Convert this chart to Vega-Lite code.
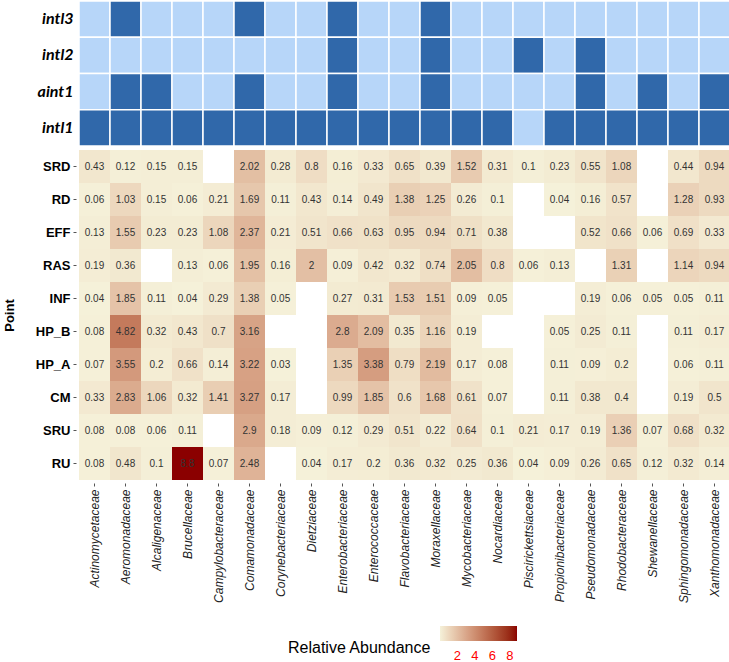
{
  "$schema": "https://vega.github.io/schema/vega-lite/v6.json",
  "padding": {"left": 3, "top": 0, "right": 0, "bottom": 0},
  "spacing": 3,
  "config": {
    "view": {"stroke": null},
    "scale": {"bandPaddingInner": 0, "bandPaddingOuter": 0},
    "font": "Liberation Sans"
  },
  "resolve": {"scale": {"x": "shared"}},
  "datasets": {
    "genes": [
      {"gene":"intl3","family":"Actinomycetaceae","present":0},{"gene":"intl3","family":"Aeromonadaceae","present":1},{"gene":"intl3","family":"Alcaligenaceae","present":0},{"gene":"intl3","family":"Brucellaceae","present":0},{"gene":"intl3","family":"Campylobacteraceae","present":0},{"gene":"intl3","family":"Comamonadaceae","present":1},{"gene":"intl3","family":"Corynebacteriaceae","present":0},{"gene":"intl3","family":"Dietziaceae","present":0},{"gene":"intl3","family":"Enterobacteriaceae","present":1},{"gene":"intl3","family":"Enterococcaceae","present":0},{"gene":"intl3","family":"Flavobacteriaceae","present":0},{"gene":"intl3","family":"Moraxellaceae","present":1},{"gene":"intl3","family":"Mycobacteriaceae","present":0},{"gene":"intl3","family":"Nocardiaceae","present":0},{"gene":"intl3","family":"Piscirickettsiaceae","present":0},{"gene":"intl3","family":"Propionibacteriaceae","present":0},{"gene":"intl3","family":"Pseudomonadaceae","present":0},{"gene":"intl3","family":"Rhodobacteraceae","present":0},{"gene":"intl3","family":"Shewanellaceae","present":0},{"gene":"intl3","family":"Sphingomonadaceae","present":0},{"gene":"intl3","family":"Xanthomonadaceae","present":0},
      {"gene":"intl2","family":"Actinomycetaceae","present":0},{"gene":"intl2","family":"Aeromonadaceae","present":0},{"gene":"intl2","family":"Alcaligenaceae","present":0},{"gene":"intl2","family":"Brucellaceae","present":0},{"gene":"intl2","family":"Campylobacteraceae","present":0},{"gene":"intl2","family":"Comamonadaceae","present":0},{"gene":"intl2","family":"Corynebacteriaceae","present":0},{"gene":"intl2","family":"Dietziaceae","present":0},{"gene":"intl2","family":"Enterobacteriaceae","present":1},{"gene":"intl2","family":"Enterococcaceae","present":0},{"gene":"intl2","family":"Flavobacteriaceae","present":0},{"gene":"intl2","family":"Moraxellaceae","present":1},{"gene":"intl2","family":"Mycobacteriaceae","present":0},{"gene":"intl2","family":"Nocardiaceae","present":0},{"gene":"intl2","family":"Piscirickettsiaceae","present":1},{"gene":"intl2","family":"Propionibacteriaceae","present":0},{"gene":"intl2","family":"Pseudomonadaceae","present":1},{"gene":"intl2","family":"Rhodobacteraceae","present":0},{"gene":"intl2","family":"Shewanellaceae","present":0},{"gene":"intl2","family":"Sphingomonadaceae","present":0},{"gene":"intl2","family":"Xanthomonadaceae","present":0},
      {"gene":"aint1","family":"Actinomycetaceae","present":0},{"gene":"aint1","family":"Aeromonadaceae","present":1},{"gene":"aint1","family":"Alcaligenaceae","present":1},{"gene":"aint1","family":"Brucellaceae","present":0},{"gene":"aint1","family":"Campylobacteraceae","present":0},{"gene":"aint1","family":"Comamonadaceae","present":1},{"gene":"aint1","family":"Corynebacteriaceae","present":0},{"gene":"aint1","family":"Dietziaceae","present":0},{"gene":"aint1","family":"Enterobacteriaceae","present":1},{"gene":"aint1","family":"Enterococcaceae","present":0},{"gene":"aint1","family":"Flavobacteriaceae","present":0},{"gene":"aint1","family":"Moraxellaceae","present":1},{"gene":"aint1","family":"Mycobacteriaceae","present":0},{"gene":"aint1","family":"Nocardiaceae","present":0},{"gene":"aint1","family":"Piscirickettsiaceae","present":0},{"gene":"aint1","family":"Propionibacteriaceae","present":0},{"gene":"aint1","family":"Pseudomonadaceae","present":1},{"gene":"aint1","family":"Rhodobacteraceae","present":0},{"gene":"aint1","family":"Shewanellaceae","present":1},{"gene":"aint1","family":"Sphingomonadaceae","present":0},{"gene":"aint1","family":"Xanthomonadaceae","present":1},
      {"gene":"intl1","family":"Actinomycetaceae","present":1},{"gene":"intl1","family":"Aeromonadaceae","present":1},{"gene":"intl1","family":"Alcaligenaceae","present":1},{"gene":"intl1","family":"Brucellaceae","present":1},{"gene":"intl1","family":"Campylobacteraceae","present":1},{"gene":"intl1","family":"Comamonadaceae","present":1},{"gene":"intl1","family":"Corynebacteriaceae","present":1},{"gene":"intl1","family":"Dietziaceae","present":1},{"gene":"intl1","family":"Enterobacteriaceae","present":1},{"gene":"intl1","family":"Enterococcaceae","present":1},{"gene":"intl1","family":"Flavobacteriaceae","present":1},{"gene":"intl1","family":"Moraxellaceae","present":1},{"gene":"intl1","family":"Mycobacteriaceae","present":1},{"gene":"intl1","family":"Nocardiaceae","present":1},{"gene":"intl1","family":"Piscirickettsiaceae","present":0},{"gene":"intl1","family":"Propionibacteriaceae","present":1},{"gene":"intl1","family":"Pseudomonadaceae","present":1},{"gene":"intl1","family":"Rhodobacteraceae","present":1},{"gene":"intl1","family":"Shewanellaceae","present":1},{"gene":"intl1","family":"Sphingomonadaceae","present":1},{"gene":"intl1","family":"Xanthomonadaceae","present":1}
    ],
    "abund": [
      {"point":"SRD","family":"Actinomycetaceae","value":0.43},{"point":"SRD","family":"Aeromonadaceae","value":0.12},{"point":"SRD","family":"Alcaligenaceae","value":0.15},{"point":"SRD","family":"Brucellaceae","value":0.15},{"point":"SRD","family":"Comamonadaceae","value":2.02},{"point":"SRD","family":"Corynebacteriaceae","value":0.28},{"point":"SRD","family":"Dietziaceae","value":0.8},{"point":"SRD","family":"Enterobacteriaceae","value":0.16},{"point":"SRD","family":"Enterococcaceae","value":0.33},{"point":"SRD","family":"Flavobacteriaceae","value":0.65},{"point":"SRD","family":"Moraxellaceae","value":0.39},{"point":"SRD","family":"Mycobacteriaceae","value":1.52},{"point":"SRD","family":"Nocardiaceae","value":0.31},{"point":"SRD","family":"Piscirickettsiaceae","value":0.1},{"point":"SRD","family":"Propionibacteriaceae","value":0.23},{"point":"SRD","family":"Pseudomonadaceae","value":0.55},{"point":"SRD","family":"Rhodobacteraceae","value":1.08},{"point":"SRD","family":"Sphingomonadaceae","value":0.44},{"point":"SRD","family":"Xanthomonadaceae","value":0.94},
      {"point":"RD","family":"Actinomycetaceae","value":0.06},{"point":"RD","family":"Aeromonadaceae","value":1.03},{"point":"RD","family":"Alcaligenaceae","value":0.15},{"point":"RD","family":"Brucellaceae","value":0.06},{"point":"RD","family":"Campylobacteraceae","value":0.21},{"point":"RD","family":"Comamonadaceae","value":1.69},{"point":"RD","family":"Corynebacteriaceae","value":0.11},{"point":"RD","family":"Dietziaceae","value":0.43},{"point":"RD","family":"Enterobacteriaceae","value":0.14},{"point":"RD","family":"Enterococcaceae","value":0.49},{"point":"RD","family":"Flavobacteriaceae","value":1.38},{"point":"RD","family":"Moraxellaceae","value":1.25},{"point":"RD","family":"Mycobacteriaceae","value":0.26},{"point":"RD","family":"Nocardiaceae","value":0.1},{"point":"RD","family":"Propionibacteriaceae","value":0.04},{"point":"RD","family":"Pseudomonadaceae","value":0.16},{"point":"RD","family":"Rhodobacteraceae","value":0.57},{"point":"RD","family":"Sphingomonadaceae","value":1.28},{"point":"RD","family":"Xanthomonadaceae","value":0.93},
      {"point":"EFF","family":"Actinomycetaceae","value":0.13},{"point":"EFF","family":"Aeromonadaceae","value":1.55},{"point":"EFF","family":"Alcaligenaceae","value":0.23},{"point":"EFF","family":"Brucellaceae","value":0.23},{"point":"EFF","family":"Campylobacteraceae","value":1.08},{"point":"EFF","family":"Comamonadaceae","value":2.37},{"point":"EFF","family":"Corynebacteriaceae","value":0.21},{"point":"EFF","family":"Dietziaceae","value":0.51},{"point":"EFF","family":"Enterobacteriaceae","value":0.66},{"point":"EFF","family":"Enterococcaceae","value":0.63},{"point":"EFF","family":"Flavobacteriaceae","value":0.95},{"point":"EFF","family":"Moraxellaceae","value":0.94},{"point":"EFF","family":"Mycobacteriaceae","value":0.71},{"point":"EFF","family":"Nocardiaceae","value":0.38},{"point":"EFF","family":"Pseudomonadaceae","value":0.52},{"point":"EFF","family":"Rhodobacteraceae","value":0.66},{"point":"EFF","family":"Shewanellaceae","value":0.06},{"point":"EFF","family":"Sphingomonadaceae","value":0.69},{"point":"EFF","family":"Xanthomonadaceae","value":0.33},
      {"point":"RAS","family":"Actinomycetaceae","value":0.19},{"point":"RAS","family":"Aeromonadaceae","value":0.36},{"point":"RAS","family":"Brucellaceae","value":0.13},{"point":"RAS","family":"Campylobacteraceae","value":0.06},{"point":"RAS","family":"Comamonadaceae","value":1.95},{"point":"RAS","family":"Corynebacteriaceae","value":0.16},{"point":"RAS","family":"Dietziaceae","value":2},{"point":"RAS","family":"Enterobacteriaceae","value":0.09},{"point":"RAS","family":"Enterococcaceae","value":0.42},{"point":"RAS","family":"Flavobacteriaceae","value":0.32},{"point":"RAS","family":"Moraxellaceae","value":0.74},{"point":"RAS","family":"Mycobacteriaceae","value":2.05},{"point":"RAS","family":"Nocardiaceae","value":0.8},{"point":"RAS","family":"Piscirickettsiaceae","value":0.06},{"point":"RAS","family":"Propionibacteriaceae","value":0.13},{"point":"RAS","family":"Rhodobacteraceae","value":1.31},{"point":"RAS","family":"Sphingomonadaceae","value":1.14},{"point":"RAS","family":"Xanthomonadaceae","value":0.94},
      {"point":"INF","family":"Actinomycetaceae","value":0.04},{"point":"INF","family":"Aeromonadaceae","value":1.85},{"point":"INF","family":"Alcaligenaceae","value":0.11},{"point":"INF","family":"Brucellaceae","value":0.04},{"point":"INF","family":"Campylobacteraceae","value":0.29},{"point":"INF","family":"Comamonadaceae","value":1.38},{"point":"INF","family":"Corynebacteriaceae","value":0.05},{"point":"INF","family":"Enterobacteriaceae","value":0.27},{"point":"INF","family":"Enterococcaceae","value":0.31},{"point":"INF","family":"Flavobacteriaceae","value":1.53},{"point":"INF","family":"Moraxellaceae","value":1.51},{"point":"INF","family":"Mycobacteriaceae","value":0.09},{"point":"INF","family":"Nocardiaceae","value":0.05},{"point":"INF","family":"Pseudomonadaceae","value":0.19},{"point":"INF","family":"Rhodobacteraceae","value":0.06},{"point":"INF","family":"Shewanellaceae","value":0.05},{"point":"INF","family":"Sphingomonadaceae","value":0.05},{"point":"INF","family":"Xanthomonadaceae","value":0.11},
      {"point":"HP_B","family":"Actinomycetaceae","value":0.08},{"point":"HP_B","family":"Aeromonadaceae","value":4.82},{"point":"HP_B","family":"Alcaligenaceae","value":0.32},{"point":"HP_B","family":"Brucellaceae","value":0.43},{"point":"HP_B","family":"Campylobacteraceae","value":0.7},{"point":"HP_B","family":"Comamonadaceae","value":3.16},{"point":"HP_B","family":"Enterobacteriaceae","value":2.8},{"point":"HP_B","family":"Enterococcaceae","value":2.09},{"point":"HP_B","family":"Flavobacteriaceae","value":0.35},{"point":"HP_B","family":"Moraxellaceae","value":1.16},{"point":"HP_B","family":"Mycobacteriaceae","value":0.19},{"point":"HP_B","family":"Propionibacteriaceae","value":0.05},{"point":"HP_B","family":"Pseudomonadaceae","value":0.25},{"point":"HP_B","family":"Rhodobacteraceae","value":0.11},{"point":"HP_B","family":"Sphingomonadaceae","value":0.11},{"point":"HP_B","family":"Xanthomonadaceae","value":0.17},
      {"point":"HP_A","family":"Actinomycetaceae","value":0.07},{"point":"HP_A","family":"Aeromonadaceae","value":3.55},{"point":"HP_A","family":"Alcaligenaceae","value":0.2},{"point":"HP_A","family":"Brucellaceae","value":0.66},{"point":"HP_A","family":"Campylobacteraceae","value":0.14},{"point":"HP_A","family":"Comamonadaceae","value":3.22},{"point":"HP_A","family":"Corynebacteriaceae","value":0.03},{"point":"HP_A","family":"Enterobacteriaceae","value":1.35},{"point":"HP_A","family":"Enterococcaceae","value":3.38},{"point":"HP_A","family":"Flavobacteriaceae","value":0.79},{"point":"HP_A","family":"Moraxellaceae","value":2.19},{"point":"HP_A","family":"Mycobacteriaceae","value":0.17},{"point":"HP_A","family":"Nocardiaceae","value":0.08},{"point":"HP_A","family":"Propionibacteriaceae","value":0.11},{"point":"HP_A","family":"Pseudomonadaceae","value":0.09},{"point":"HP_A","family":"Rhodobacteraceae","value":0.2},{"point":"HP_A","family":"Sphingomonadaceae","value":0.06},{"point":"HP_A","family":"Xanthomonadaceae","value":0.11},
      {"point":"CM","family":"Actinomycetaceae","value":0.33},{"point":"CM","family":"Aeromonadaceae","value":2.83},{"point":"CM","family":"Alcaligenaceae","value":1.06},{"point":"CM","family":"Brucellaceae","value":0.32},{"point":"CM","family":"Campylobacteraceae","value":1.41},{"point":"CM","family":"Comamonadaceae","value":3.27},{"point":"CM","family":"Corynebacteriaceae","value":0.17},{"point":"CM","family":"Enterobacteriaceae","value":0.99},{"point":"CM","family":"Enterococcaceae","value":1.85},{"point":"CM","family":"Flavobacteriaceae","value":0.6},{"point":"CM","family":"Moraxellaceae","value":1.68},{"point":"CM","family":"Mycobacteriaceae","value":0.61},{"point":"CM","family":"Nocardiaceae","value":0.07},{"point":"CM","family":"Propionibacteriaceae","value":0.11},{"point":"CM","family":"Pseudomonadaceae","value":0.38},{"point":"CM","family":"Rhodobacteraceae","value":0.4},{"point":"CM","family":"Sphingomonadaceae","value":0.19},{"point":"CM","family":"Xanthomonadaceae","value":0.5},
      {"point":"SRU","family":"Actinomycetaceae","value":0.08},{"point":"SRU","family":"Aeromonadaceae","value":0.08},{"point":"SRU","family":"Alcaligenaceae","value":0.06},{"point":"SRU","family":"Brucellaceae","value":0.11},{"point":"SRU","family":"Comamonadaceae","value":2.9},{"point":"SRU","family":"Corynebacteriaceae","value":0.18},{"point":"SRU","family":"Dietziaceae","value":0.09},{"point":"SRU","family":"Enterobacteriaceae","value":0.12},{"point":"SRU","family":"Enterococcaceae","value":0.29},{"point":"SRU","family":"Flavobacteriaceae","value":0.51},{"point":"SRU","family":"Moraxellaceae","value":0.22},{"point":"SRU","family":"Mycobacteriaceae","value":0.64},{"point":"SRU","family":"Nocardiaceae","value":0.1},{"point":"SRU","family":"Piscirickettsiaceae","value":0.21},{"point":"SRU","family":"Propionibacteriaceae","value":0.17},{"point":"SRU","family":"Pseudomonadaceae","value":0.19},{"point":"SRU","family":"Rhodobacteraceae","value":1.36},{"point":"SRU","family":"Shewanellaceae","value":0.07},{"point":"SRU","family":"Sphingomonadaceae","value":0.68},{"point":"SRU","family":"Xanthomonadaceae","value":0.32},
      {"point":"RU","family":"Actinomycetaceae","value":0.08},{"point":"RU","family":"Aeromonadaceae","value":0.48},{"point":"RU","family":"Alcaligenaceae","value":0.1},{"point":"RU","family":"Brucellaceae","value":8.8},{"point":"RU","family":"Campylobacteraceae","value":0.07},{"point":"RU","family":"Comamonadaceae","value":2.48},{"point":"RU","family":"Dietziaceae","value":0.04},{"point":"RU","family":"Enterobacteriaceae","value":0.17},{"point":"RU","family":"Enterococcaceae","value":0.2},{"point":"RU","family":"Flavobacteriaceae","value":0.36},{"point":"RU","family":"Moraxellaceae","value":0.32},{"point":"RU","family":"Mycobacteriaceae","value":0.25},{"point":"RU","family":"Nocardiaceae","value":0.36},{"point":"RU","family":"Piscirickettsiaceae","value":0.04},{"point":"RU","family":"Propionibacteriaceae","value":0.09},{"point":"RU","family":"Pseudomonadaceae","value":0.26},{"point":"RU","family":"Rhodobacteraceae","value":0.65},{"point":"RU","family":"Shewanellaceae","value":0.12},{"point":"RU","family":"Sphingomonadaceae","value":0.32},{"point":"RU","family":"Xanthomonadaceae","value":0.14}
    ]
  },
  "vconcat": [
    {
      "width": 651,
      "height": 145,
      "data": {"name": "genes"},
      "mark": {"type": "rect", "stroke": "white", "strokeWidth": 1.5},
      "encoding": {
        "x": {"field": "family", "type": "nominal", "sort": ["Actinomycetaceae","Aeromonadaceae","Alcaligenaceae","Brucellaceae","Campylobacteraceae","Comamonadaceae","Corynebacteriaceae","Dietziaceae","Enterobacteriaceae","Enterococcaceae","Flavobacteriaceae","Moraxellaceae","Mycobacteriaceae","Nocardiaceae","Piscirickettsiaceae","Propionibacteriaceae","Pseudomonadaceae","Rhodobacteraceae","Shewanellaceae","Sphingomonadaceae","Xanthomonadaceae"], "axis": null},
        "y": {"field": "gene", "type": "nominal", "sort": ["intl3","intl2","aint1","intl1"],
          "axis": {"title": null, "domain": false, "ticks": false, "labelPadding": 6, "labelFont": "Lato", "labelFontSize": 16, "labelFontWeight": "bold", "labelFontStyle": "italic", "labelColor": "#000000"}},
        "color": {"condition": {"test": "datum.present == 1", "value": "#3068AA"}, "value": "#B7D6F9"}
      }
    },
    {
      "width": 651,
      "height": 330,
      "data": {"name": "abund"},
      "encoding": {
        "x": {"field": "family", "type": "nominal", "sort": ["Actinomycetaceae","Aeromonadaceae","Alcaligenaceae","Brucellaceae","Campylobacteraceae","Comamonadaceae","Corynebacteriaceae","Dietziaceae","Enterobacteriaceae","Enterococcaceae","Flavobacteriaceae","Moraxellaceae","Mycobacteriaceae","Nocardiaceae","Piscirickettsiaceae","Propionibacteriaceae","Pseudomonadaceae","Rhodobacteraceae","Shewanellaceae","Sphingomonadaceae","Xanthomonadaceae"],
          "axis": {"title": null, "domain": false, "labelAngle": -90, "labelFontSize": 12, "labelFontStyle": "italic", "labelColor": "#222222", "tickSize": 3, "tickColor": "#555555", "labelPadding": 3, "offset": 3}},
        "y": {"field": "point", "type": "nominal", "sort": ["SRD","RD","EFF","RAS","INF","HP_B","HP_A","CM","SRU","RU"],
          "axis": {"title": "Point", "titleFontSize": 13, "titleFontWeight": "bold", "titleColor": "#000000", "titlePadding": 19, "domain": false, "labelFontSize": 13, "labelFontWeight": "bold", "labelColor": "#000000", "tickSize": 3, "tickColor": "#555555", "labelPadding": 3, "offset": 3}}
      },
      "layer": [
        {
          "mark": {"type": "rect"},
          "encoding": {
            "color": {"field": "value", "type": "quantitative",
              "scale": {"domain": [0.03, 8.8], "range": ["#F5F1D9", "#8B0000"], "interpolate": "lab"},
              "legend": {"title": "Relative Abundance", "orient": "none", "legendX": 209, "legendY": 625, "direction": "horizontal", "titleOrient": "left", "titleAnchor": "middle", "titleBaseline": "line-top", "titleLineHeight": 28, "titleFontSize": 16, "titleFontWeight": "normal", "titleColor": "#000000", "titlePadding": 8, "gradientLength": 77, "gradientThickness": 15, "values": [2, 4, 6, 8], "labelColor": "#FF0000", "labelFontSize": 13, "labelOffset": 9}}
          }
        },
        {
          "mark": {"type": "text", "fontSize": 10, "color": "#333333"},
          "encoding": {"text": {"field": "value", "type": "nominal"}}
        }
      ]
    }
  ]
}
